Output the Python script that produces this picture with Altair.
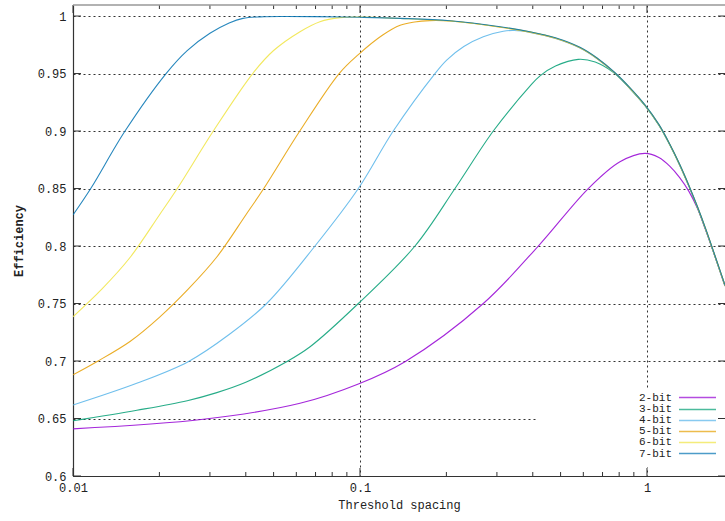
import altair as alt
import pandas as pd

SERIES = ["2-bit", "3-bit", "4-bit", "5-bit", "6-bit", "7-bit"]
COLORS = ["#9400d3", "#009e73", "#56b4e9", "#e69f00", "#f0e442", "#0072b2"]

X_2BIT = [0.01, 0.02844, 0.0618, 0.0987, 0.1435, 0.2689, 0.4182, 0.6244, 0.805, 0.984,
          1.1, 1.2, 1.3, 1.4, 1.5, 1.6, 1.7, 1.87]
Y_2BIT = [0.641, 0.6493, 0.6632, 0.68, 0.6994, 0.75, 0.80, 0.85, 0.8733, 0.8806,
          0.877, 0.8695, 0.8595, 0.8475, 0.8325, 0.8140, 0.7955, 0.7652]

X_3BIT = [0.01, 0.0167, 0.025, 0.0317, 0.04, 0.0555, 0.067, 0.0987, 0.1555, 0.2143,
          0.2914, 0.391, 0.4239, 0.48, 0.5763, 0.66, 0.7611, 0.87, 0.984,
          1.1, 1.2, 1.3, 1.4, 1.5, 1.6, 1.7, 1.87]
Y_3BIT = [0.648, 0.6572, 0.6655, 0.6725, 0.6815, 0.6994, 0.7124, 0.75, 0.80, 0.85,
          0.90, 0.939, 0.948, 0.9565, 0.9623, 0.96, 0.9512, 0.9372, 0.922,
          0.905, 0.888, 0.8703, 0.8519, 0.8333, 0.8145, 0.7956, 0.7652]

X_4BIT = [0.01, 0.01667, 0.0252, 0.035, 0.0473, 0.0697, 0.0987, 0.1306, 0.1825, 0.2005,
          0.23, 0.2689, 0.3157, 0.345, 0.391, 0.48, 0.584, 0.67, 0.774, 0.87, 0.984,
          1.1, 1.2, 1.3, 1.4, 1.5, 1.6, 1.7, 1.87]
Y_4BIT = [0.6617, 0.6806, 0.6994, 0.723, 0.75, 0.80, 0.85, 0.90, 0.95, 0.9617,
          0.9735, 0.982, 0.9868, 0.9874, 0.9858, 0.9805, 0.9722, 0.9629, 0.9501, 0.9374, 0.9222,
          0.9052, 0.8882, 0.8705, 0.8521, 0.8335, 0.8147, 0.7958, 0.7654]

X_5BIT = [0.01, 0.0121, 0.0158, 0.02, 0.0252, 0.0316, 0.04, 0.0462, 0.0617, 0.0846,
          0.0987, 0.12, 0.138, 0.155, 0.175, 0.195, 0.22, 0.25, 0.308, 0.391,
          0.48, 0.584, 0.67, 0.774, 0.87, 0.984,
          1.1, 1.2, 1.3, 1.4, 1.5, 1.6, 1.7, 1.87]
Y_5BIT = [0.688, 0.6994, 0.717, 0.738, 0.7625, 0.790, 0.827, 0.85, 0.90, 0.95,
          0.9665, 0.9835, 0.992, 0.9948, 0.996, 0.996, 0.9951, 0.9935, 0.9903, 0.986,
          0.9807, 0.9724, 0.9631, 0.9503, 0.9376, 0.9224,
          0.9054, 0.8884, 0.8707, 0.8523, 0.8337, 0.8149, 0.796, 0.7656]

X_6BIT = [0.01, 0.0126, 0.0158, 0.02, 0.02309, 0.03083, 0.04228, 0.05, 0.0618, 0.0725,
          0.0852, 0.1, 0.138, 0.206, 0.308, 0.391, 0.48, 0.584, 0.67, 0.774, 0.87, 0.984,
          1.1, 1.2, 1.3, 1.4, 1.5, 1.6, 1.7, 1.87]
Y_6BIT = [0.7385, 0.7625, 0.790, 0.827, 0.85, 0.90, 0.95, 0.970, 0.9864, 0.9951,
          0.9986, 0.9991, 0.9978, 0.9957, 0.9905, 0.9862, 0.9809, 0.9726, 0.9633, 0.9505, 0.9378, 0.9226,
          0.9056, 0.8886, 0.8709, 0.8525, 0.8339, 0.8151, 0.7962, 0.7658]

X_7BIT = [0.01, 0.01153, 0.01518, 0.0211, 0.025, 0.030, 0.035, 0.0391, 0.045, 0.055,
          0.07, 0.1, 0.138, 0.206, 0.308, 0.391, 0.48, 0.584, 0.67, 0.774, 0.87, 0.984,
          1.1, 1.2, 1.3, 1.4, 1.5, 1.6, 1.7, 1.87]
Y_7BIT = [0.827, 0.85, 0.90, 0.95, 0.970, 0.985, 0.994, 0.998, 0.9993, 0.9996,
          0.9995, 0.9989, 0.998, 0.9959, 0.9907, 0.9864, 0.9811, 0.9728, 0.9635, 0.9507, 0.938, 0.9228,
          0.9058, 0.8888, 0.8711, 0.8527, 0.8341, 0.8153, 0.7964, 0.766]

X_VALUES = [X_2BIT, X_3BIT, X_4BIT, X_5BIT, X_6BIT, X_7BIT]
Y_VALUES = [Y_2BIT, Y_3BIT, Y_4BIT, Y_5BIT, Y_6BIT, Y_7BIT]

X_TICKS_MAJOR = [0.01, 0.1, 1]
X_TICKS_MINOR = [0.02, 0.03, 0.04, 0.05, 0.06, 0.07, 0.08, 0.09,
                 0.2, 0.3, 0.4, 0.5, 0.6, 0.7, 0.8, 0.9]
Y_TICKS = [0.6, 0.65, 0.7, 0.75, 0.8, 0.85, 0.9, 0.95, 1.0]

X_DOMAIN = [0.01, 1.87]
Y_DOMAIN = [0.6, 1.0096]

W, H = 652, 471
FONT = "Liberation Mono"
INK = "#222222"

xscale = alt.Scale(type="log", domain=X_DOMAIN, nice=False)
yscale = alt.Scale(domain=Y_DOMAIN, nice=False, zero=False)

x_axis = alt.Axis(values=X_TICKS_MAJOR, format="~g", title="Threshold spacing",
                  grid=True, gridDash=[2, 3], gridColor="#333333", gridWidth=1,
                  ticks=False, tickSize=0, labelPadding=6, titlePadding=6,
                  domainColor="#333333", domainWidth=1.2,
                  labelFont=FONT, titleFont=FONT, labelFontSize=12, titleFontSize=12,
                  titleFontWeight="normal", labelColor=INK, titleColor=INK,
                  labelFlush=False, labelOverlap=False)
y_axis = alt.Axis(values=Y_TICKS, format="~g", title="Efficiency",
                  grid=True, gridDash=[2, 3], gridColor="#333333", gridWidth=1,
                  ticks=False, tickSize=0, labelPadding=7, titlePadding=12,
                  domainColor="#333333", domainWidth=1.2,
                  labelFont=FONT, titleFont=FONT, labelFontSize=12, titleFontSize=12,
                  titleFontWeight="bold", labelColor=INK, titleColor=INK,
                  labelFlush=False, labelOverlap=False)


def X(field):
    return alt.X(field, type="quantitative", scale=xscale, axis=x_axis)


def Y(field):
    return alt.Y(field, type="quantitative", scale=yscale, axis=y_axis)


one = pd.DataFrame({"k": [0]})

# axes layer (invisible points just to carry the axes)
axes_layer = alt.Chart(pd.DataFrame({"x": X_DOMAIN, "y": Y_DOMAIN})).mark_point(opacity=0).encode(
    x=X("x"), y=Y("y"),
)

# white legend box covering the grid
legend_box = alt.Chart(one).mark_rect(fill="white").encode(
    x=alt.value(464), x2=alt.value(W), y=alt.value(383), y2=alt.value(462)
)

layers = [axes_layer, legend_box]

# inward ticks
maj = pd.DataFrame({"v": X_TICKS_MAJOR})
mnr = pd.DataFrame({"v": X_TICKS_MINOR})
yt = pd.DataFrame({"v": Y_TICKS})
tick_style = dict(color="#333333", strokeWidth=1)
layers += [
    alt.Chart(maj).mark_rule(**tick_style).encode(x=X("v"), y=alt.value(H), y2=alt.value(H - 8)),
    alt.Chart(mnr).mark_rule(**tick_style).encode(x=X("v"), y=alt.value(H), y2=alt.value(H - 4)),
    alt.Chart(maj).mark_rule(**tick_style).encode(x=X("v"), y=alt.value(0), y2=alt.value(8)),
    alt.Chart(mnr).mark_rule(**tick_style).encode(x=X("v"), y=alt.value(0), y2=alt.value(4)),
    alt.Chart(yt).mark_rule(**tick_style).encode(y=Y("v"), x=alt.value(0), x2=alt.value(8)),
    alt.Chart(yt).mark_rule(**tick_style).encode(y=Y("v"), x=alt.value(W - 7), x2=alt.value(W)),
    alt.Chart(one).mark_rule(color="#999999", strokeWidth=1.5).encode(x=alt.value(0), x2=alt.value(W), y=alt.value(0)),
]

# curves, 2-bit first so 7-bit is on top
for name, col, xs, ys in zip(SERIES, COLORS, X_VALUES, Y_VALUES):
    df = pd.DataFrame({"x": xs, "y": ys})
    layers.append(
        alt.Chart(df).mark_line(color=col, strokeWidth=1.1, strokeOpacity=0.85,
                                interpolate="catmull-rom", clip=True).encode(
            x=X("x"), y=Y("y"),
        )
    )

# legend (text, then sample line to its right)
LEG_TEXT_X = 599
LEG_LINE_X0, LEG_LINE_X1 = 606, 643
LEG_Y0, LEG_DY = 392.5, 11.2
for i, (name, col) in enumerate(zip(SERIES, COLORS)):
    yy = LEG_Y0 + i * LEG_DY
    layers.append(
        alt.Chart(pd.DataFrame({"t": [name]})).mark_text(
            align="right", baseline="middle", font=FONT, fontSize=11, color=INK
        ).encode(text="t:N", x=alt.value(LEG_TEXT_X), y=alt.value(yy))
    )
    layers.append(
        alt.Chart(one).mark_rule(color=col, strokeWidth=1.5, strokeOpacity=0.7).encode(
            x=alt.value(LEG_LINE_X0), x2=alt.value(LEG_LINE_X1), y=alt.value(round(yy) + 0.5)
        )
    )

chart = alt.layer(*layers).properties(
    width=W, height=H,
    autosize="none",
    padding={"left": 73, "top": 5, "right": 0, "bottom": 45},
    background="white",
).configure_view(stroke=None)

chart.save("out.html", embed_options={"renderer": "svg", "actions": False})
